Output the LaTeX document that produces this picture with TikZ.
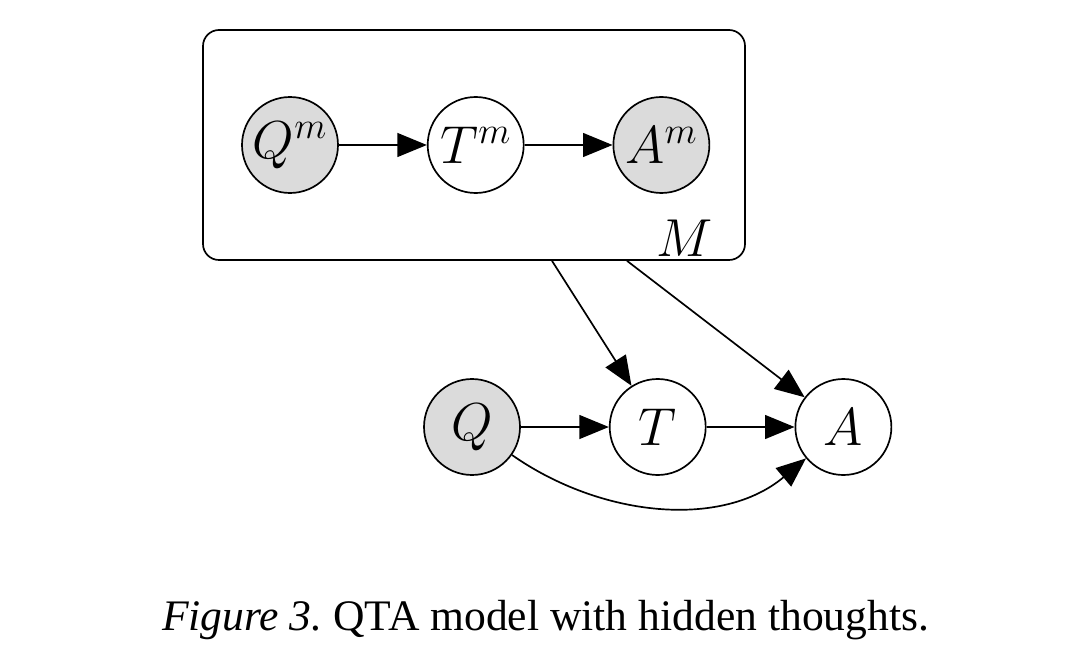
\RequirePackage{fix-cm}
\documentclass[tikz,border=0pt]{standalone}
\usepackage{fontspec}
\newfontfamily\capfont{Liberation Serif}
\usetikzlibrary{arrows.meta, positioning}

\begin{document}
\begin{tikzpicture}[
    font=\fontsize{38}{44}\selectfont,
    var/.style={circle, draw=black, line width=1.2pt, fill=white,
                minimum size=2.4cm, inner sep=0pt},
    obs/.style={var, fill=black!14},
    plate/.style={draw=black, line width=1.2pt, rounded corners=0.4cm,
                  minimum width=13.55cm, minimum height=5.75cm},
    edge/.style={-{Triangle[length=21pt,width=17pt]}, line width=1.2pt},
]
\useasboundingbox (0,0) rectangle (27,-16.375);

% --- plate: the M worked examples ---
\node[plate] (box) at (11.85,-3.625) {};
\node[obs] (qm) at (7.25,-3.625) {$Q^m$};
\node[var, right=2.2cm of qm] (tm) {$T^m$};
\node[obs, right=2.2cm of tm] (am) {$A^m$};
\node (mlab) at (17.125,-5.95) {$M$};

% --- query, thought, answer ---
\node[obs] (q) at (11.8,-10.675) {$Q$};
\node[var, right=2.2cm of q] (t) {$T$};
\node[var, right=2.2cm of t] (a) {$A$};

\coordinate (b1) at ([xshift=1.95cm]box.south);
\coordinate (b2) at ([xshift=3.825cm]box.south);

% --- edges ---
\draw[edge] (qm) -- (tm);
\draw[edge] (tm) -- (am);
\draw[edge] (q) -- (t);
\draw[edge] (t) -- (a);
\draw[edge] (b1) -- (t);
\draw[edge] (b2) -- (a);
\draw[edge] (q) to[out=-35, in=-140, looseness=0.95] (a);

% --- caption ---
\node[font=\capfont\fontsize{31}{36}\selectfont] (cap) at (13.64,-15.5)
    {\textit{Figure 3.}\ QTA model with hidden thoughts.};

\end{tikzpicture}
\end{document}
